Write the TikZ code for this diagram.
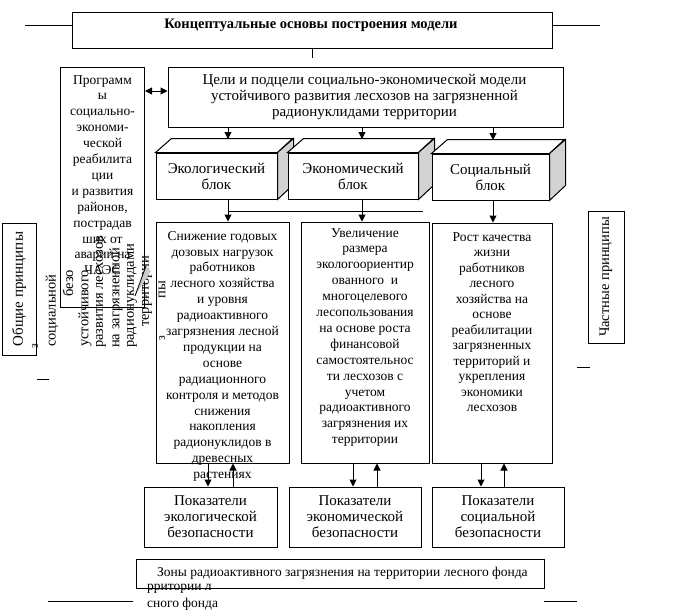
\documentclass[tikz,border=0pt]{standalone}
\usepackage{fontspec}
\setmainfont{Liberation Serif}
\usetikzlibrary{arrows.meta}
\begin{document}
\begin{tikzpicture}[x=1pt,y=-1pt,
  box/.style={draw, line width=1pt, inner sep=0pt, fill=white},
  txt/.style={inner sep=0pt, align=center, font=\fontsize{13.5}{15.9}\selectfont},
  bigtxt/.style={inner sep=0pt, align=center, font=\fontsize{15}{16}\selectfont},
  arr/.style={-{Triangle[length=7pt,width=7pt]}, line width=1pt},
  darr/.style={{Triangle[length=7pt,width=7pt]}-{Triangle[length=7pt,width=7pt]}, line width=1pt},
  rot/.style={rotate=90, anchor=west, inner sep=0pt, font=\fontsize{14.5}{17}\selectfont},
  topface/.style={draw, line width=1pt, fill=white},
  sideface/.style={draw, line width=1pt, fill=gray!35},
  plain/.style={line width=1pt}
]
\useasboundingbox (0,0) rectangle (673,613);

% title
\node[box, minimum width=480, minimum height=36] (title) at (312.5,30) {};
\node[inner sep=0pt, font=\bfseries\fontsize{14.5}{16}\selectfont] (titlet) at (311,25) {Концептуальные основы построения модели};
\coordinate (tl) at (25,25);
\coordinate (tr) at (600,25);
\draw[plain] (title.west |- tl) -- (tl);
\draw[plain] (title.east |- tr) -- (tr);
\coordinate (tick) at (312,58);
\draw[plain] (title.south -| tick) -- (tick);

% goals
\node[box, minimum width=395, minimum height=60] (goals) at (365.5,97) {};
\node[bigtxt] (goalst) at (364.5,96.5) {Цели и подцели социально-экономической модели\\устойчивого развития лесхозов на загрязненной\\радионуклидами территории};

% rotated mess texts
\node[rot] (r1) at (52,347) {социальной};
\node[rot] (r2) at (68,297) {безо};
\node[rot] (r3) at (85,347) {устойчивого};
\node[rot] (r4) at (101,348) {развития лесхозов};
\node[rot] (r5) at (116,348) {на загрязненной};
\node[rot] (r6) at (132,348) {радионуклидами};
\node[rot] (r7) at (147,327) {территории};

% programs box
\node[draw, line width=1pt, inner sep=0pt, minimum width=84.5, minimum height=239.5] (prog) at (102.25,187.25) {};
\node[txt, anchor=north] (progt) at (102.5,75) {Программ\\ы\\социально-\\экономи-\\ческой\\реабилита\\ции\\и развития\\районов,\\пострадав\\ших от\\аварии на\\ЧАЭС};
\fill[gray!40] (135,296) -- (146,266) -- (151,271) -- cycle;
\draw[line width=0.8pt] (135,296) -- (146,266);

\coordinate (da) at (0,91);
\draw[darr] (prog.east |- da) -- (goals.west |- da);

% 3D blocks
\node[box, minimum width=121, minimum height=46, bigtxt] (ecob) at (216.5,176) {Экологический\\блок};
\draw[topface] (ecob.north west) -- ++(16,-14) -- ++(121,0) -- (ecob.north east) -- cycle;
\draw[sideface] (ecob.north east) -- ++(16,-14) -- ++(0,46) -- (ecob.south east) -- cycle;

\node[box, minimum width=130, minimum height=46, bigtxt] (econb) at (353,176) {Экономический\\блок};
\draw[topface] (econb.north west) -- ++(16,-14) -- ++(130,0) -- (econb.north east) -- cycle;
\draw[sideface] (econb.north east) -- ++(16,-14) -- ++(0,46) -- (econb.south east) -- cycle;

\node[box, minimum width=117, minimum height=46, bigtxt] (socb) at (490.5,177) {Социальный\\блок};
\draw[topface] (socb.north west) -- ++(16,-14) -- ++(117,0) -- (socb.north east) -- cycle;
\draw[sideface] (socb.north east) -- ++(16,-14) -- ++(0,46) -- (socb.south east) -- cycle;

% arrows goals -> blocks
\coordinate (a1) at (228,139);
\coordinate (a2) at (362,139);
\coordinate (a3) at (493,140);
\draw[arr] (goals.south -| a1) -- (a1);
\draw[arr] (goals.south -| a2) -- (a2);
\draw[arr] (goals.south -| a3) -- (a3);

% content boxes
\node[box, minimum width=133, minimum height=241] (ecoc) at (222.5,342.5) {};
\node[box, minimum width=128, minimum height=241] (econc) at (365,342.5) {};
\node[box, minimum width=120, minimum height=240] (socc) at (492,343) {};

\node[txt, anchor=north] (ecot) at (222.5,231) {Снижение годовых\\дозовых нагрузок\\работников\\лесного хозяйства\\и уровня\\радиоактивного\\загрязнения лесной\\продукции на\\основе\\радиационного\\контроля и методов\\снижения\\накопления\\радионуклидов в\\древесных\\растениях};
\node[txt, anchor=north] (econt) at (365,228) {Увеличение\\размера\\экологоориентир\\ованного~~и\\многоцелевого\\лесопользования\\на основе роста\\финансовой\\самостоятельнос\\ти лесхозов с\\учетом\\радиоактивного\\загрязнения их\\территории};
\node[txt, anchor=north, font=\fontsize{13.5}{15.5}\selectfont] (soct) at (492,232) {Рост качества\\жизни\\работников\\лесного\\хозяйства на\\основе\\реабилитации\\загрязненных\\территорий и\\укрепления\\экономики\\лесхозов};

% arrows blocks -> content
\coordinate (b1) at (228,0);
\coordinate (b2) at (362,0);
\coordinate (b3) at (493,0);
\draw[arr] (ecob.south -| b1) -- (ecoc.north -| b1);
\draw[arr] (econb.south -| b2) -- (econc.north -| b2);
\draw[arr] (socb.south -| b3) -- (socc.north -| b3);
\coordinate (h1) at (228,211);
\coordinate (h2) at (423,211);
\draw[plain] (h1) -- (h2);

% small rotated fragments
\node[rotate=90, inner sep=0pt, font=\fontsize{14.5}{17}\selectfont] (py) at (162,290) {пы};
\node[rotate=90, inner sep=0pt, font=\fontsize{12}{14}\selectfont] (z2) at (162,338) {з};

% indicator boxes
\node[box, minimum width=133, minimum height=60, font=\fontsize{15}{16}\selectfont, align=center] (ecoi) at (210.5,517) {Показатели\\экологической\\безопасности};
\node[box, minimum width=132, minimum height=60, font=\fontsize{15}{16}\selectfont, align=center] (econi) at (355,517) {Показатели\\экономической\\безопасности};
\node[box, minimum width=132, minimum height=60, font=\fontsize{15}{16}\selectfont, align=center] (soci) at (498,517) {Показатели\\социальной\\безопасности};

% arrows content <-> indicators
\coordinate (d1) at (208,0); \coordinate (u1) at (233,0);
\coordinate (d2) at (353,0); \coordinate (u2) at (377,0);
\coordinate (d3) at (481,0); \coordinate (u3) at (504,0);
\draw[arr] (ecoc.south -| d1) -- (ecoi.north -| d1);
\draw[arr] (ecoi.north -| u1) -- (ecoc.south -| u1);
\draw[arr] (econc.south -| d2) -- (econi.north -| d2);
\draw[arr] (econi.north -| u2) -- (econc.south -| u2);
\draw[arr] (socc.south -| d3) -- (soci.north -| d3);
\draw[arr] (soci.north -| u3) -- (socc.south -| u3);

% zones box
\node[draw, line width=1pt, inner sep=0pt, minimum width=408, minimum height=29] (zones) at (340,573.5) {};
\node[txt, anchor=west] (zonest) at (157,573) {Зоны радиоактивного загрязнения на территории лесного фонда};
\node[txt, anchor=west] (zo1) at (147,589) {рритории л};
\node[txt, anchor=west] (zo2) at (147,604) {сного фонда};
\coordinate (bl1) at (48,601); \coordinate (bl2) at (133,601);
\coordinate (br1) at (544,601); \coordinate (br2) at (577,601);
\draw[plain] (bl1) -- (bl2);
\draw[plain] (br1) -- (br2);

% side principle boxes
\node[draw, line width=1pt, rotate=90, inner sep=0pt, minimum width=132, minimum height=34, font=\fontsize{15}{18}\selectfont] (gen) at (19,289) {Общие принципы};
\node[rotate=90, inner sep=0pt, font=\fontsize{12}{14}\selectfont] (z1) at (35,346) {з};
\node[draw, line width=1pt, rotate=90, inner sep=0pt, minimum width=132, minimum height=36, font=\fontsize{14.5}{18}\selectfont] (part) at (606,277) {Частные принципы};
\coordinate (sl1) at (37,379); \coordinate (sl2) at (49,379);
\coordinate (sr1) at (577,367); \coordinate (sr2) at (590,367);
\draw[plain] (sl1) -- (sl2);
\draw[plain] (sr1) -- (sr2);
\end{tikzpicture}
\end{document}
